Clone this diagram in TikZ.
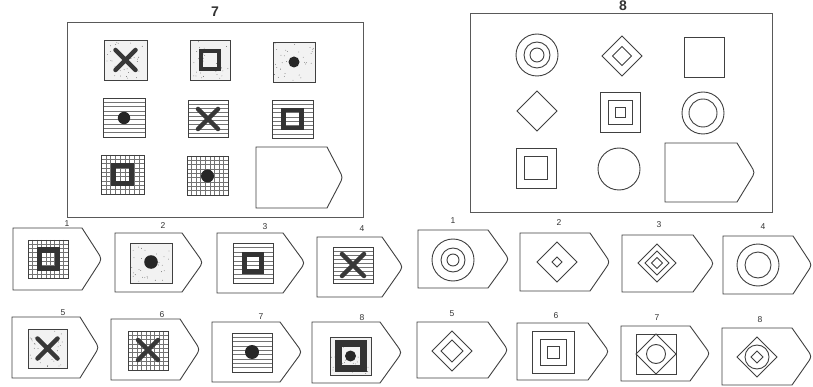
\documentclass[tikz,border=0pt]{standalone}
\usepackage{fontspec}
\newfontfamily\titlefont{Liberation Sans}
\tikzset{
 outl/.style={draw=black!75, line width=0.9pt},
 framest/.style={draw=black!65, line width=1pt},
 hatch/.style={draw=black!55, line width=0.45pt},
 thickx/.style={draw=black!78, line width=4.5pt, line cap=round},
 ringst/.style={draw=black!80, line width=#1},
 ringst/.default=4.5pt,
 blob/.style={fill=black!85},
 lab/.style={font=\titlefont\fontsize{8.5}{8.5}\selectfont, inner sep=0pt, text=black!80},
 ttl/.style={font=\titlefont\bfseries\fontsize{14}{14}\selectfont, inner sep=0pt, text=black!80},
}
\newcommand\rsDotBox[4]{%
 \fill[black!5] (#1,#2) rectangle (#3,#4);
 \pgfmathsetseed{#1}
 \foreach \k in {1,...,30}{\fill[black!65] ({#1+1.5+rnd*(#3-#1-3)},{#2+1.5+rnd*(#4-#2-3)}) circle (0.4pt);}
 \draw[outl] (#1,#2) rectangle (#3,#4);}
\newcommand\rsHBox[4]{%
 \foreach \k in {1,...,8}{\draw[hatch] (#1,{#2+\k*(#4-#2)/9}) -- (#3,{#2+\k*(#4-#2)/9});}
 \draw[outl] (#1,#2) rectangle (#3,#4);}
\newcommand\rsGBox[4]{%
 \foreach \k in {1,...,8}{\draw[hatch] (#1,{#2+\k*(#4-#2)/9}) -- (#3,{#2+\k*(#4-#2)/9});
   \draw[hatch] ({#1+\k*(#3-#1)/9},#2) -- ({#1+\k*(#3-#1)/9},#4);}
 \draw[outl] (#1,#2) rectangle (#3,#4);}
\newcommand\rsX[3]{\draw[thickx] ({#1-#3},{#2-#3}) -- ({#1+#3},{#2+#3}) ({#1-#3},{#2+#3}) -- ({#1+#3},{#2-#3});}
\newcommand\rsRing[4]{\draw[ringst=#4] ({#1-#3},{#2-#3}) rectangle ({#1+#3},{#2+#3});}
\newcommand\rsDot[3]{\fill[blob] (#1,#2) circle (#3pt);}
\newcommand\rsPenta[5]{%
 \draw[outl] (#5,#2) -- (#1,#2) -- (#1,#4) -- (#5,#4) -- ({#3-0.25*(#3-#5)},{(#2+#4)/2+0.25*(#4-#2)/2}) .. controls (#3,{(#2+#4)/2}) .. ({#3-0.25*(#3-#5)},{(#2+#4)/2-0.25*(#4-#2)/2}) -- cycle;}
\newcommand\rsDiam[3]{\draw[outl] ({#1-#3},#2) -- (#1,{#2-#3}) -- ({#1+#3},#2) -- (#1,{#2+#3}) -- cycle;}
\newcommand\rsSq[3]{\draw[outl] ({#1-#3},{#2-#3}) rectangle ({#1+#3},{#2+#3});}
\newcommand\rsCirc[3]{\draw[outl] (#1,#2) circle (#3pt);}
\begin{document}
\begin{tikzpicture}[x=1pt,y=-1pt]
\useasboundingbox (0,0) rectangle (813,387);
\fill[white] (0,0) rectangle (813,387);
% ---------- problem 7 ----------
\node[ttl] (t7) at (215,12) {7};
\draw[framest] (67,23) rectangle (363,218);
\rsDotBox{104}{40}{147}{80} \rsX{125.5}{60}{10}
\rsDotBox{190}{40}{230}{80} \rsRing{210}{60}{9}{4.5pt}
\rsDotBox{273}{42}{315}{82} \rsDot{294}{62}{5.5}
\rsHBox{103}{98}{145}{137} \rsDot{124}{118}{6.2}
\rsHBox{188}{100}{228}{137} \rsX{208}{119}{10}
\rsHBox{272}{100}{313}{138} \rsRing{292.5}{119}{9}{4.5pt}
\rsGBox{101}{155}{144}{194} \rsRing{122.5}{175}{9}{5pt}
\rsGBox{187}{156}{228}{195} \rsDot{207.5}{176}{6.5}
\rsPenta{256}{147}{343}{208}{327}
% ---------- problem 8 ----------
\node[ttl] (t8) at (623,6) {8};
\draw[framest] (470,14) rectangle (772,213);
\rsCirc{537}{55}{21} \rsCirc{537}{55}{13} \rsCirc{537}{55}{7}
\rsDiam{622}{56}{20} \rsDiam{622}{56}{9.5}
\rsSq{704.5}{57.5}{20}
\rsDiam{537}{111}{20}
\rsSq{620}{112}{20} \rsSq{620}{112}{12} \rsSq{620}{112}{5}
\rsCirc{703}{113}{21} \rsCirc{703}{113}{14}
\rsSq{536}{168}{20} \rsSq{536}{168}{11.5}
\rsCirc{619}{169}{21}
\rsPenta{665}{143}{755}{202}{737}
% ---------- answers 7, row 1 ----------
\node[lab] (a1) at (67,224) {1};
\rsPenta{13}{228}{102}{290}{82}
\rsGBox{28}{240}{68}{278} \rsRing{48}{259}{9}{5pt}
\node[lab] (a2) at (163,226) {2};
\rsPenta{115}{233}{203}{292}{182}
\rsDotBox{130}{243}{172}{283} \rsDot{151}{262}{6.8}
\node[lab] (a3) at (265,227) {3};
\rsPenta{217}{233}{305}{293}{283}
\rsHBox{233}{243}{273}{283} \rsRing{253}{263}{8.5}{4.5pt}
\node[lab] (a4) at (362,229) {4};
\rsPenta{317}{237}{403}{297}{382}
\rsHBox{333}{247}{373}{283} \rsX{353}{265}{11}
% ---------- answers 7, row 2 ----------
\node[lab] (a5) at (63,313) {5};
\rsPenta{12}{317}{99}{378}{80}
\rsDotBox{28}{329}{67}{368} \rsX{47.5}{348.5}{10}
\node[lab] (a6) at (162,315) {6};
\rsPenta{111}{319}{200}{380}{180}
\rsGBox{128}{331}{168}{370} \rsX{148}{350}{10}
\node[lab] (a7) at (261,317) {7};
\rsPenta{212}{322}{302}{382}{280}
\rsHBox{232}{333}{272}{372} \rsDot{252}{352}{7}
\node[lab] (a8) at (362,318) {8};
\rsPenta{312}{322}{402}{383}{380}
\rsDotBox{330}{337}{371}{375} \rsRing{350.5}{356}{12.5}{7pt} \rsDot{350.5}{356}{5.5}
% ---------- answers 8, row 1 ----------
\node[lab] (b1) at (453,221) {1};
\rsPenta{418}{230}{509}{288}{488}
\rsCirc{453}{260}{21} \rsCirc{453}{260}{12} \rsCirc{453}{260}{6}
\node[lab] (b2) at (559,223) {2};
\rsPenta{520}{233}{610}{291}{590}
\rsDiam{557}{262}{20} \rsDiam{557}{262}{5}
\node[lab] (b3) at (659,225) {3};
\rsPenta{622}{235}{714}{292}{693}
\rsDiam{657}{263}{19} \rsDiam{657}{263}{12} \rsDiam{657}{263}{5.5}
\node[lab] (b4) at (763,227) {4};
\rsPenta{723}{236}{812}{294}{793}
\rsCirc{758}{265}{21} \rsCirc{758}{265}{13}
% ---------- answers 8, row 2 ----------
\node[lab] (b5) at (452,314) {5};
\rsPenta{417}{322}{508}{378}{488}
\rsDiam{452}{351}{20} \rsDiam{452}{351}{11}
\node[lab] (b6) at (556,316) {6};
\rsPenta{517}{323}{609}{380}{588}
\rsSq{553}{352}{21} \rsSq{553}{352}{13} \rsSq{553}{352}{6}
\node[lab] (b7) at (657,318) {7};
\rsPenta{621}{326}{710}{381}{690}
\rsSq{656}{354}{20} \rsDiam{656}{354}{20} \rsCirc{656}{354}{9.5}
\node[lab] (b8) at (760,320) {8};
\rsPenta{722}{328}{812}{385}{792}
\rsDiam{757}{357}{20} \rsCirc{757}{357}{12} \rsDiam{757}{357}{6}
\end{tikzpicture}
\end{document}
